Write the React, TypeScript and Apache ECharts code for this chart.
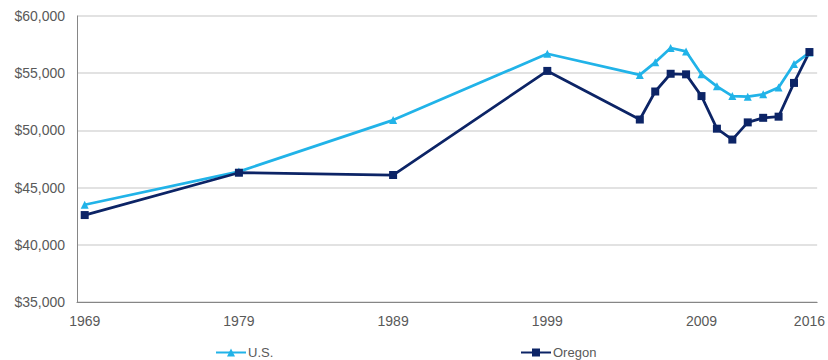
import React, { useEffect, useRef } from "react";
import * as echarts from "echarts";

const years = [1969, 1979, 1989, 1999, 2005, 2006, 2007, 2008, 2009, 2010, 2011, 2012, 2013, 2014, 2015, 2016];
const usValues = [43500, 46400, 50900, 56700, 54850, 55950, 57200, 56900, 54900, 53850, 53000, 52950, 53150, 53750, 55800, 56800];
const oregonValues = [42600, 46300, 46100, 55200, 50950, 53400, 54950, 54900, 53000, 50150, 49200, 50700, 51100, 51200, 54150, 56850];
const xTickLabels = [1969, 1979, 1989, 1999, 2009, 2016];
const yTicks = [35000, 40000, 45000, 50000, 55000, 60000];

const US_COLOR = "#21B3E8";
const OR_COLOR = "#0C2466";
const FONT = "Liberation Sans";

export default function App() {
  const ref = useRef<HTMLDivElement>(null);
  useEffect(() => {
    if (!ref.current) return;
    const chart = echarts.init(ref.current, null, { renderer: "svg" });
    const pair = (xs: number[], ys: number[]) => xs.map((x, i) => [x, ys[i]]);
    chart.setOption({
      animation: false,
      textStyle: { fontFamily: FONT },
      grid: { left: 77, right: 8, top: 16, bottom: 58, containLabel: false },
      legend: [
        {
          data: ["U.S."],
          left: 210,
          top: 341,
          itemWidth: 30,
          itemHeight: 10,
          textStyle: { color: "#595959", fontSize: 13, fontFamily: FONT, padding: [0, 0, 0, -3] },
        },
        {
          data: ["Oregon"],
          left: 515,
          top: 341,
          itemWidth: 30,
          itemHeight: 10,
          textStyle: { color: "#595959", fontSize: 13, fontFamily: FONT, padding: [0, 0, 0, -3] },
        },
      ],
      xAxis: {
        type: "value",
        min: years[0] - 0.5,
        max: years[years.length - 1] + 0.5,
        axisLine: { show: true, lineStyle: { color: "#868686", width: 1 } },
        axisTick: { show: false },
        splitLine: { show: false },
        axisLabel: {
          color: "#595959",
          fontSize: 14,
          fontFamily: FONT,
          margin: 12,
          customValues: xTickLabels,
          formatter: (v: number) => String(v),
        },
      },
      yAxis: {
        type: "value",
        min: yTicks[0],
        max: yTicks[yTicks.length - 1],
        interval: 5000,
        axisLine: { show: true, lineStyle: { color: "#868686", width: 1 } },
        axisTick: { show: false },
        splitLine: { show: true, lineStyle: { color: "#D9D9D9", width: 1.5 } },
        axisLabel: {
          color: "#595959",
          fontSize: 14,
          fontFamily: FONT,
          margin: 12,
          formatter: (v: number) => "$" + v.toLocaleString("en-US"),
        },
      },
      series: [
        {
          name: "U.S.",
          type: "line",
          data: pair(years, usValues),
          symbol: "triangle",
          symbolSize: 8,
          lineStyle: { color: US_COLOR, width: 2.75 },
          itemStyle: { color: US_COLOR },
        },
        {
          name: "Oregon",
          type: "line",
          data: pair(years, oregonValues),
          symbol: "rect",
          symbolSize: 8,
          lineStyle: { color: OR_COLOR, width: 2.75 },
          itemStyle: { color: OR_COLOR },
        },
      ],
    });
    return () => chart.dispose();
  }, []);
  return <div ref={ref} style={{ width: 828, height: 360, position: "absolute", left: 0, top: 0 }} />;
}
